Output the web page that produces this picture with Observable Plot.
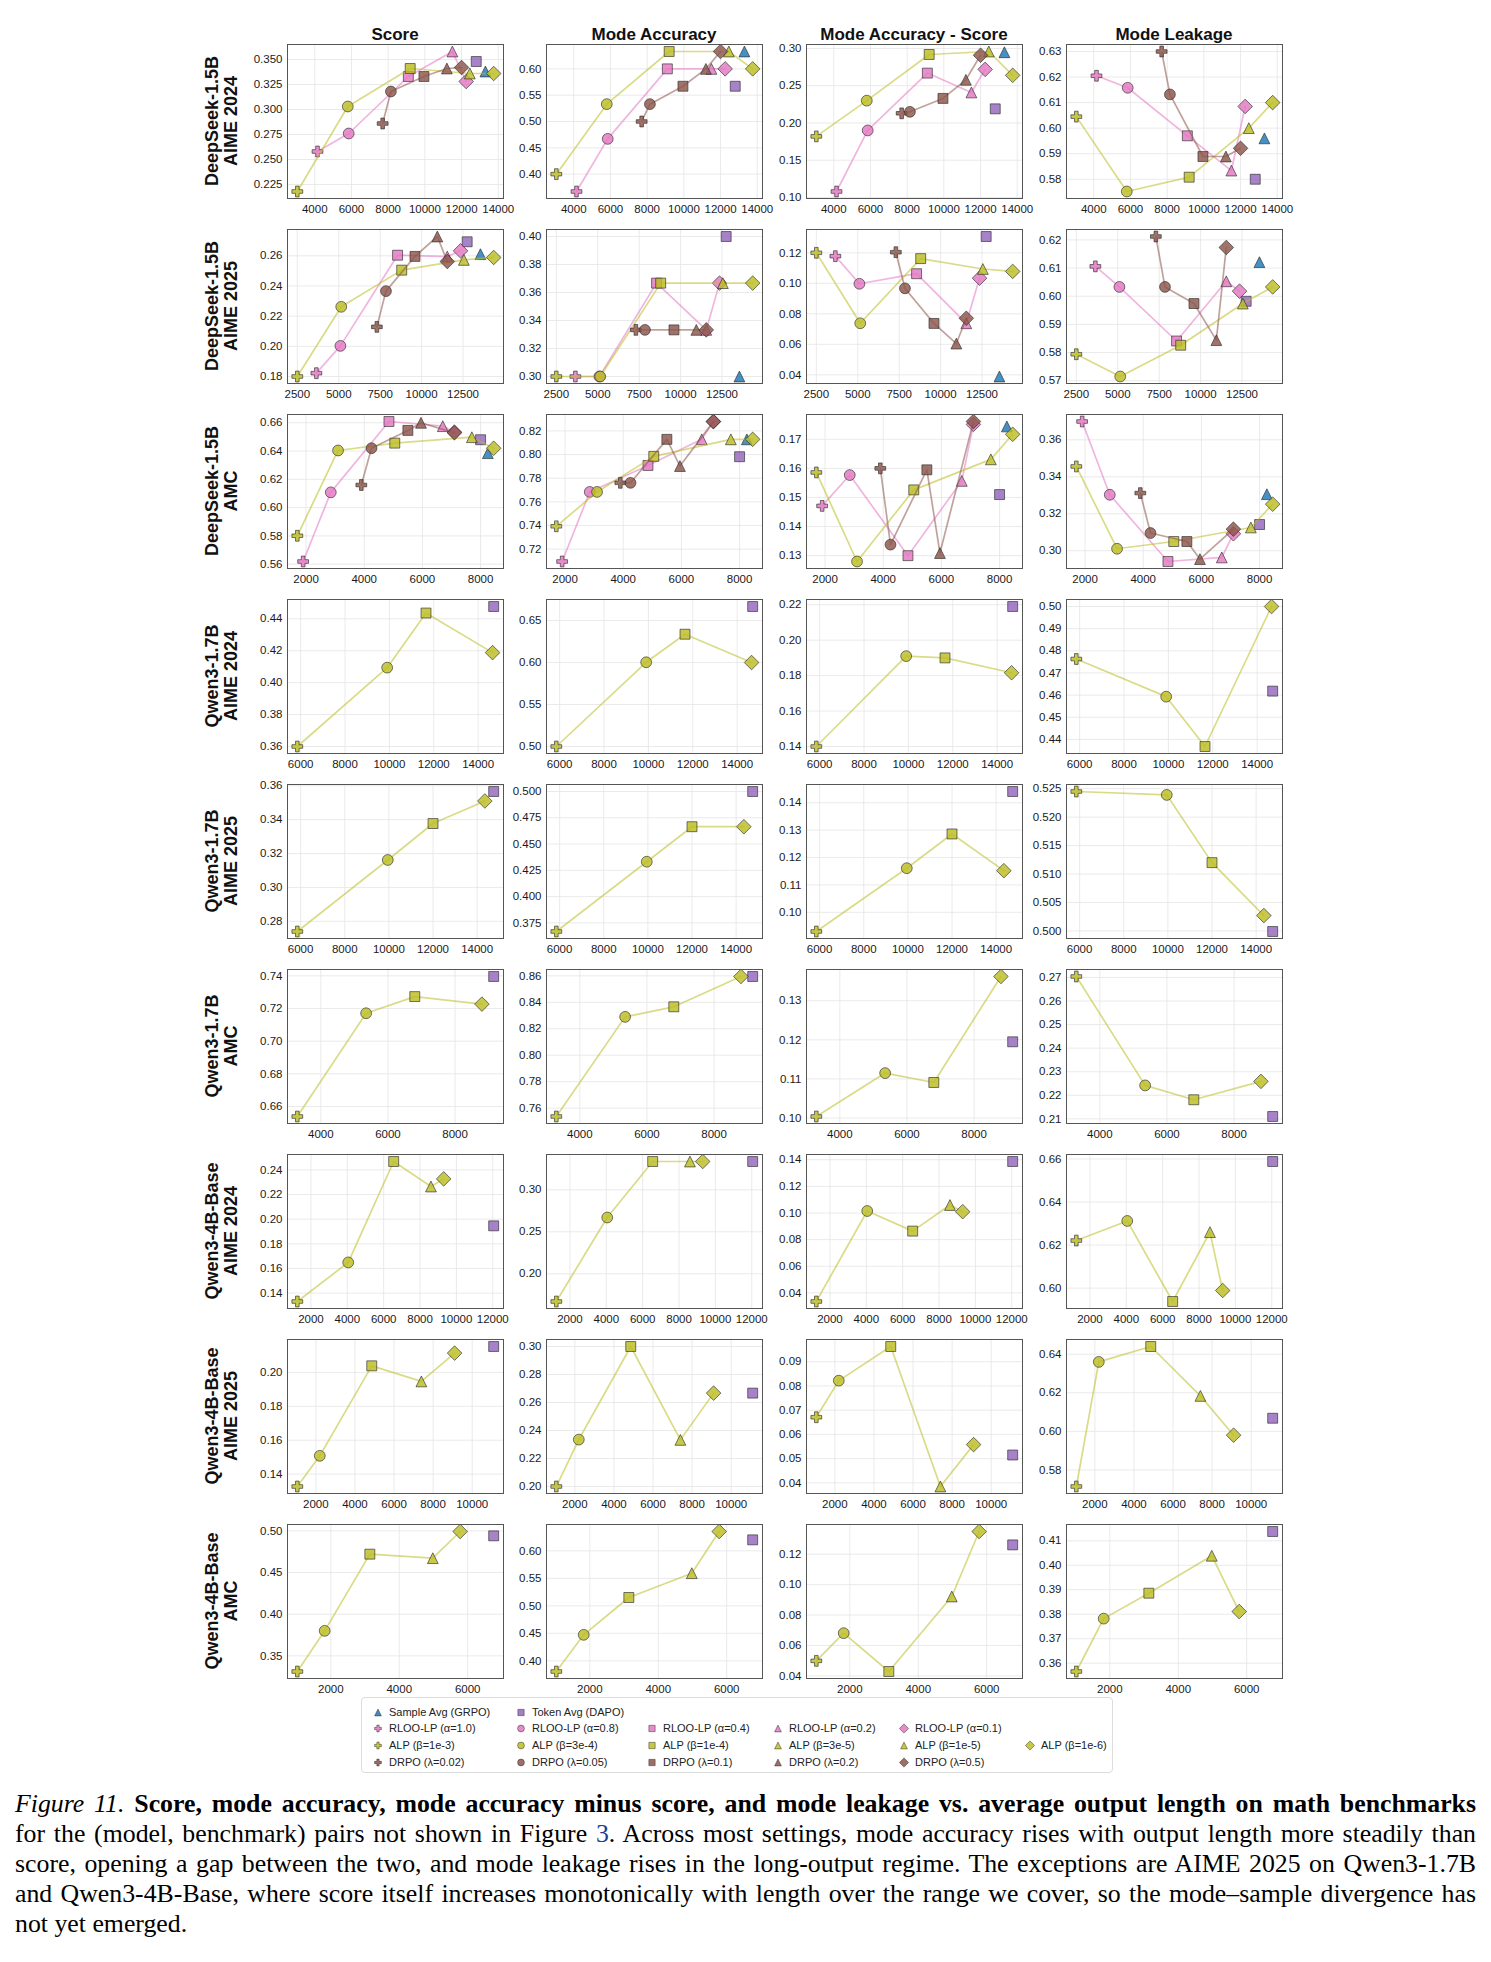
<!DOCTYPE html>
<html><head><meta charset="utf-8">
<script src="https://cdn.jsdelivr.net/npm/d3@7"></script>
<script src="https://cdn.jsdelivr.net/npm/@observablehq/plot@0.6"></script>
<style>
body{margin:0;background:#fff;}
#root{position:relative;width:1491px;height:1962px;font-family:"Liberation Sans",Arial,sans-serif;color:#111;overflow:hidden;}
.panel{position:absolute;}
.coltitle{position:absolute;font-weight:bold;font-size:17px;text-align:center;width:216px;line-height:18px;}
.rowlab{position:absolute;width:240px;height:38px;text-align:center;font-weight:bold;font-size:18px;line-height:19px;transform:rotate(-90deg);transform-origin:50% 50%;}
.legend{position:absolute;left:361px;top:1697px;width:752px;height:76px;border:1px solid #dcdcdc;border-radius:4px;box-sizing:border-box;}
.li{position:absolute;font-size:11px;line-height:13px;white-space:nowrap;color:#222;}
.li svg{position:absolute;left:-17px;top:0px;}
.cap{position:absolute;left:15px;top:1789px;width:1461px;font-family:"Liberation Serif","Times New Roman",serif;font-size:25.8px;line-height:30px;color:#000;}
.cap div{text-align:justify;text-align-last:justify;}
.cap div.last{text-align-last:left;}
</style></head><body><div id="root"></div>
<script>
// ---------- DATA ----------
const metricTitles = ["Score", "Mode Accuracy", "Mode Accuracy - Score", "Mode Leakage"];
const rowModels = ["DeepSeek-1.5B","DeepSeek-1.5B","DeepSeek-1.5B","Qwen3-1.7B","Qwen3-1.7B","Qwen3-1.7B","Qwen3-4B-Base","Qwen3-4B-Base","Qwen3-4B-Base"];
const rowBenchmarks = ["AIME 2024","AIME 2025","AMC","AIME 2024","AIME 2025","AMC","AIME 2024","AIME 2025","AMC"];

// [method, hyperparameter, avg output length, score, mode accuracy, mode accuracy - score, mode leakage]
const dsAime24 = [
  ["GRPO","",13300,0.338,0.633,0.295,0.596],
  ["DAPO","",12800,0.348,0.567,0.219,0.580],
  ["RLOO","α=1.0",4150,0.258,0.367,0.108,0.6205],
  ["RLOO","α=0.8",5850,0.276,0.467,0.190,0.6158],
  ["RLOO","α=0.4",9100,0.333,0.600,0.267,0.597],
  ["RLOO","α=0.2",11500,0.358,0.600,0.241,0.5834],
  ["RLOO","α=0.1",12250,0.328,0.600,0.272,0.6085],
  ["ALP","β=1e-3",3050,0.218,0.400,0.182,0.6045],
  ["ALP","β=3e-4",5800,0.303,0.533,0.230,0.5752],
  ["ALP","β=1e-4",9200,0.341,0.633,0.292,0.5808],
  ["ALP","β=3e-5",12450,0.336,0.633,0.296,0.600],
  ["ALP","β=1e-6",13750,0.336,0.600,0.264,0.610],
  ["DRPO","λ=0.02",7700,0.286,0.500,0.213,0.630],
  ["DRPO","λ=0.05",8150,0.318,0.533,0.215,0.6132],
  ["DRPO","λ=0.1",9950,0.333,0.567,0.233,0.5889],
  ["DRPO","λ=0.2",11200,0.341,0.600,0.258,0.5889],
  ["DRPO","λ=0.5",12000,0.342,0.633,0.291,0.5921]
];
const dsAime25 = [
  ["GRPO","",13550,0.2611,0.300,0.0389,0.6121],
  ["DAPO","",12750,0.2693,0.400,0.1307,0.5982],
  ["RLOO","α=1.0",3650,0.1822,0.300,0.1178,0.6106],
  ["RLOO","α=0.8",5100,0.2003,0.300,0.0997,0.6033],
  ["RLOO","α=0.4",8550,0.2604,0.3667,0.1063,0.5841],
  ["RLOO","α=0.2",11550,0.2595,0.3333,0.0738,0.6053],
  ["RLOO","α=0.1",12350,0.2633,0.3667,0.1034,0.6018],
  ["ALP","β=1e-3",2500,0.180,0.300,0.120,0.5794],
  ["ALP","β=3e-4",5150,0.2262,0.300,0.0738,0.5715],
  ["ALP","β=1e-4",8800,0.2505,0.3667,0.1162,0.5826],
  ["ALP","β=3e-5",12550,0.2573,0.3667,0.1094,0.5974],
  ["ALP","β=1e-6",14350,0.2589,0.3667,0.1078,0.6033],
  ["DRPO","λ=0.02",7300,0.2129,0.3333,0.1204,0.6212],
  ["DRPO","λ=0.05",7850,0.2366,0.3333,0.0967,0.6033],
  ["DRPO","λ=0.1",9600,0.2596,0.3333,0.0737,0.5974],
  ["DRPO","λ=0.2",10950,0.2728,0.3333,0.0605,0.5844],
  ["DRPO","λ=0.5",11550,0.2562,0.3333,0.0771,0.6173]
];
const dsAmc = [
  ["GRPO","",8250,0.6385,0.8129,0.1744,0.3306],
  ["DAPO","",8000,0.648,0.7982,0.151,0.3142],
  ["RLOO","α=1.0",1900,0.5619,0.7095,0.1471,0.3699],
  ["RLOO","α=0.8",2850,0.6108,0.7684,0.1577,0.3303],
  ["RLOO","α=0.4",4850,0.6609,0.7908,0.130,0.2942],
  ["RLOO","α=0.2",6700,0.6576,0.8129,0.1557,0.2964],
  ["RLOO","α=0.1",7100,0.6534,0.828,0.1751,0.3092],
  ["ALP","β=1e-3",1700,0.5801,0.7393,0.1586,0.3456],
  ["ALP","β=3e-4",3100,0.6404,0.7684,0.128,0.3011],
  ["ALP","β=1e-4",5050,0.6456,0.7985,0.1526,0.305],
  ["ALP","β=3e-5",7700,0.6498,0.8129,0.1631,0.3126],
  ["ALP","β=1e-6",8450,0.642,0.8129,0.1717,0.3252],
  ["DRPO","λ=0.02",3900,0.616,0.7761,0.160,0.3312],
  ["DRPO","λ=0.05",4250,0.642,0.7761,0.1338,0.3096],
  ["DRPO","λ=0.1",5500,0.6546,0.8129,0.1595,0.305],
  ["DRPO","λ=0.2",5950,0.660,0.7903,0.1309,0.2955],
  ["DRPO","λ=0.5",7100,0.6529,0.8279,0.1761,0.3117]
];
const q17Aime24 = [
  ["DAPO","",14700,0.4477,0.6667,0.219,0.4618],
  ["ALP","β=1e-3",5850,0.360,0.500,0.140,0.4763],
  ["ALP","β=3e-4",9900,0.4094,0.6003,0.191,0.4593],
  ["ALP","β=1e-4",11650,0.4436,0.6337,0.190,0.4368],
  ["ALP","β=1e-6",14650,0.4188,0.600,0.1816,0.500]
];
const q17Aime25 = [
  ["DAPO","",14750,0.3566,0.500,0.1441,0.4999],
  ["ALP","β=1e-3",5850,0.274,0.3668,0.093,0.5245],
  ["ALP","β=3e-4",9950,0.3162,0.4332,0.1161,0.5239],
  ["ALP","β=1e-4",12000,0.3377,0.4665,0.1286,0.512],
  ["ALP","β=1e-6",14350,0.351,0.4665,0.1152,0.5027]
];
const q17Amc = [
  ["DAPO","",9150,0.7396,0.8595,0.1195,0.211],
  ["ALP","β=1e-3",3300,0.6539,0.7537,0.1004,0.2704],
  ["ALP","β=3e-4",5350,0.7171,0.829,0.1115,0.2242],
  ["ALP","β=1e-4",6800,0.7273,0.8366,0.1091,0.2181],
  ["ALP","β=1e-6",8800,0.7227,0.8595,0.1362,0.2259]
];
const q4Aime24 = [
  ["DAPO","",12050,0.1946,0.3337,0.1387,0.6588],
  ["ALP","β=1e-3",1250,0.1332,0.167,0.0335,0.6221],
  ["ALP","β=3e-4",4050,0.1649,0.267,0.1015,0.6312],
  ["ALP","β=1e-4",6550,0.2468,0.3337,0.0864,0.5938],
  ["ALP","β=3e-5",8600,0.2265,0.3337,0.106,0.626],
  ["ALP","β=1e-6",9300,0.2327,0.3337,0.101,0.5989]
];
const q4Aime25 = [
  ["DAPO","",11100,0.2153,0.2667,0.0515,0.6068],
  ["ALP","β=1e-3",1050,0.1327,0.200,0.0671,0.5714],
  ["ALP","β=3e-4",2200,0.1508,0.2335,0.0822,0.636],
  ["ALP","β=1e-4",4860,0.2039,0.300,0.0963,0.644],
  ["ALP","β=3e-5",7400,0.1947,0.2333,0.0385,0.6184],
  ["ALP","β=1e-6",9100,0.2114,0.2667,0.0558,0.598]
];
const q4Amc = [
  ["DAPO","",6760,0.494,0.62,0.1261,0.4138],
  ["ALP","β=1e-3",1020,0.3312,0.3806,0.0499,0.3566],
  ["ALP","β=3e-4",1820,0.380,0.4473,0.0681,0.3782],
  ["ALP","β=1e-4",3140,0.472,0.5152,0.0429,0.3886],
  ["ALP","β=3e-5",4980,0.4672,0.5594,0.0922,0.4039],
  ["ALP","β=1e-6",5780,0.4992,0.6352,0.1349,0.3811]
];
const runs = [dsAime24, dsAime25, dsAmc, q17Aime24, q17Aime25, q17Amc, q4Aime24, q4Aime25, q4Amc];

const xTicks = [
  [4000,6000,8000,10000,12000,14000],
  [2500,5000,7500,10000,12500],
  [2000,4000,6000,8000],
  [6000,8000,10000,12000,14000],
  [6000,8000,10000,12000,14000],
  [4000,6000,8000],
  [2000,4000,6000,8000,10000,12000],
  [2000,4000,6000,8000,10000],
  [2000,4000,6000]
];
const yTicks = [
  [["0.225","0.250","0.275","0.300","0.325","0.350"],["0.40","0.45","0.50","0.55","0.60"],["0.10","0.15","0.20","0.25","0.30"],["0.58","0.59","0.60","0.61","0.62","0.63"]],
  [["0.18","0.20","0.22","0.24","0.26"],["0.30","0.32","0.34","0.36","0.38","0.40"],["0.04","0.06","0.08","0.10","0.12"],["0.57","0.58","0.59","0.60","0.61","0.62"]],
  [["0.56","0.58","0.60","0.62","0.64","0.66"],["0.72","0.74","0.76","0.78","0.80","0.82"],["0.13","0.14","0.15","0.16","0.17"],["0.30","0.32","0.34","0.36"]],
  [["0.36","0.38","0.40","0.42","0.44"],["0.50","0.55","0.60","0.65"],["0.14","0.16","0.18","0.20","0.22"],["0.44","0.45","0.46","0.47","0.48","0.49","0.50"]],
  [["0.28","0.30","0.32","0.34","0.36"],["0.375","0.400","0.425","0.450","0.475","0.500"],["0.10","0.11","0.12","0.13","0.14"],["0.500","0.505","0.510","0.515","0.520","0.525"]],
  [["0.66","0.68","0.70","0.72","0.74"],["0.76","0.78","0.80","0.82","0.84","0.86"],["0.10","0.11","0.12","0.13"],["0.21","0.22","0.23","0.24","0.25","0.26","0.27"]],
  [["0.14","0.16","0.18","0.20","0.22","0.24"],["0.20","0.25","0.30"],["0.04","0.06","0.08","0.10","0.12","0.14"],["0.60","0.62","0.64","0.66"]],
  [["0.14","0.16","0.18","0.20"],["0.20","0.22","0.24","0.26","0.28","0.30"],["0.04","0.05","0.06","0.07","0.08","0.09"],["0.58","0.60","0.62","0.64"]],
  [["0.35","0.40","0.45","0.50"],["0.40","0.45","0.50","0.55","0.60"],["0.04","0.06","0.08","0.10","0.12"],["0.36","0.37","0.38","0.39","0.40","0.41"]]
];

const legendRows = [
  [["GRPO","","Sample Avg (GRPO)"],["DAPO","","Token Avg (DAPO)"]],
  [["RLOO","α=1.0","RLOO-LP (α=1.0)"],["RLOO","α=0.8","RLOO-LP (α=0.8)"],["RLOO","α=0.4","RLOO-LP (α=0.4)"],["RLOO","α=0.2","RLOO-LP (α=0.2)"],["RLOO","α=0.1","RLOO-LP (α=0.1)"]],
  [["ALP","β=1e-3","ALP (β=1e-3)"],["ALP","β=3e-4","ALP (β=3e-4)"],["ALP","β=1e-4","ALP (β=1e-4)"],["ALP","β=3e-5","ALP (β=3e-5)"],["ALP","β=1e-5","ALP (β=1e-5)"],["ALP","β=1e-6","ALP (β=1e-6)"]],
  [["DRPO","λ=0.02","DRPO (λ=0.02)"],["DRPO","λ=0.05","DRPO (λ=0.05)"],["DRPO","λ=0.1","DRPO (λ=0.1)"],["DRPO","λ=0.2","DRPO (λ=0.2)"],["DRPO","λ=0.5","DRPO (λ=0.5)"]]
];

// ---------- STYLE ----------
const famColor = {GRPO:"#1f77b4", DAPO:"#9467bd", RLOO:"#e377c2", ALP:"#bcbd22", DRPO:"#8c564b"};
const paramShape = {
  "α=1.0":"plus","α=0.8":"circle","α=0.4":"square","α=0.2":"triangle","α=0.1":"diamond",
  "β=1e-3":"plus","β=3e-4":"circle","β=1e-4":"square","β=3e-5":"triangle","β=1e-5":"triangle","β=1e-6":"diamond",
  "λ=0.02":"plus","λ=0.05":"circle","λ=0.1":"square","λ=0.2":"triangle","λ=0.5":"diamond"
};
const shapeOf = d => d[0] === "GRPO" ? "triangle" : d[0] === "DAPO" ? "square" : paramShape[d[1]];
const sym = {
  plus: {draw(c, size){const s=Math.sqrt(size/Math.PI), a=s/3;
    c.moveTo(-a,-s);c.lineTo(a,-s);c.lineTo(a,-a);c.lineTo(s,-a);c.lineTo(s,a);c.lineTo(a,a);
    c.lineTo(a,s);c.lineTo(-a,s);c.lineTo(-a,a);c.lineTo(-s,a);c.lineTo(-s,-a);c.lineTo(-a,-a);c.closePath();}},
  circle: {draw(c, size){const s=Math.sqrt(size/Math.PI); c.moveTo(s,0); c.arc(0,0,s,0,2*Math.PI); c.closePath();}},
  square: {draw(c, size){const s=Math.sqrt(size/Math.PI)*0.92; c.rect(-s,-s,2*s,2*s);}},
  triangle: {draw(c, size){const s=Math.sqrt(size/Math.PI); c.moveTo(0,-s); c.lineTo(s,s); c.lineTo(-s,s); c.closePath();}},
  diamond: {draw(c, size){const s=Math.sqrt(size/Math.PI)*1.35; c.moveTo(0,-s); c.lineTo(s,0); c.lineTo(0,s); c.lineTo(-s,0); c.closePath();}}
};

// ---------- LAYOUT ----------
const root = document.getElementById("root");
const W = 216, H = 154, mL = 56, mR = 14, mT = 10, mB = 28;
const colX = [287, 546, 806, 1066];
const rowY = r => 44 + r * 185;
const pad = a => { const [lo, hi] = d3.extent(a); const p = (hi - lo) * 0.05; return [lo - p, hi + p]; };

metricTitles.forEach((t, c) => {
  const d = document.createElement("div");
  d.className = "coltitle"; d.textContent = t;
  d.style.left = colX[c] + "px"; d.style.top = "26px";
  root.appendChild(d);
});

runs.forEach((data, r) => {
  const lab = document.createElement("div");
  lab.className = "rowlab";
  lab.innerHTML = rowModels[r] + "<br>" + rowBenchmarks[r];
  const cy = rowY(r) + H / 2;
  lab.style.left = (222 - 120) + "px"; lab.style.top = (cy - 19) + "px";
  root.appendChild(lab);

  const xs = data.map(d => d[2]);
  const xt = xTicks[r];
  for (let c = 0; c < 4; c++) {
    const ys = data.map(d => d[3 + c]);
    const ytl = yTicks[r][c];
    const yt = ytl.map(Number);
    const ylab = new Map(yt.map((v, i) => [v, ytl[i]]));
    const X = d => d[2], Y = d => d[3 + c];
    const marks = [
      Plot.gridX(xt, {stroke: "#e4e4e4", strokeOpacity: 1, strokeWidth: 0.8}),
      Plot.gridY(yt, {stroke: "#e4e4e4", strokeOpacity: 1, strokeWidth: 0.8}),
      Plot.axisX(xt, {tickSize: 0, tickPadding: 6, label: null, fontSize: 11.5, tickFormat: d => String(d)}),
      Plot.axisY(yt, {tickSize: 0, tickPadding: 5, label: null, fontSize: 11.5, tickFormat: d => ylab.get(d)})
    ];
    const dotOpts = (d) => ({x: X, y: Y, r: 5.4, symbol: sym[shapeOf(d)], fill: famColor[d[0]], fillOpacity: 0.82,
      stroke: "#2a2a2a", strokeWidth: 0.8, strokeOpacity: 0.8});
    data.filter(d => d[0] === "GRPO" || d[0] === "DAPO").forEach(d => marks.push(Plot.dot([d], dotOpts(d))));
    ["RLOO", "ALP", "DRPO"].forEach(f => {
      const fr = data.filter(d => d[0] === f);
      if (!fr.length) return;
      marks.push(Plot.line(fr, {x: X, y: Y, stroke: famColor[f], strokeOpacity: 0.55, strokeWidth: 1.7}));
      fr.forEach(d => marks.push(Plot.dot([d], dotOpts(d))));
    });
    marks.push(Plot.frame({stroke: "#555", strokeWidth: 1}));
    const svg = Plot.plot({
      width: W + mL + mR, height: H + mT + mB,
      marginLeft: mL, marginRight: mR, marginTop: mT, marginBottom: mB,
      x: {domain: pad(xs)}, y: {domain: pad(ys)},
      style: {background: "transparent", overflow: "visible", fontFamily: "Liberation Sans, Arial, sans-serif", fontSize: "11.5px", color: "#1a1a1a"},
      marks
    });
    const div = document.createElement("div");
    div.className = "panel";
    div.style.left = (colX[c] - mL) + "px"; div.style.top = (rowY(r) - mT) + "px";
    div.style.width = (W + mL + mR) + "px";
    div.appendChild(svg);
    root.appendChild(div);
  }
});

// ---------- LEGEND ----------
const leg = document.createElement("div");
leg.className = "legend";
root.appendChild(leg);
const legColX = [27, 170, 301, 427, 553, 679];
const legRowY = [8, 24, 41, 58];
legendRows.forEach((row, ri) => row.forEach((it, ci) => {
  const d = document.createElement("div");
  d.className = "li";
  d.style.left = legColX[ci] + "px"; d.style.top = legRowY[ri] + "px";
  const shape = it[0] === "GRPO" ? "triangle" : it[0] === "DAPO" ? "square" : paramShape[it[1]];
  const p = d3.path(); sym[shape].draw(p, Math.PI * 3.4 * 3.4);
  d.innerHTML = `<svg width="12" height="13" viewBox="-6 -6.5 12 13"><path d="${p.toString()}" fill="${famColor[it[0]]}" fill-opacity="0.85" stroke="#2a2a2a" stroke-width="0.6" stroke-opacity="0.8"/></svg>` + it[2];
  leg.appendChild(d);
}));

// ---------- CAPTION ----------
const cap = document.createElement("div");
cap.className = "cap";
cap.innerHTML =
  `<div><i>Figure 11.</i> <b>Score, mode accuracy, mode accuracy minus score, and mode leakage vs. average output length on math benchmarks</b></div>` +
  `<div>for the (model, benchmark) pairs not shown in Figure <span style="color:#1c3f94">3</span>. Across most settings, mode accuracy rises with output length more steadily than</div>` +
  `<div>score, opening a gap between the two, and mode leakage rises in the long-output regime. The exceptions are AIME 2025 on Qwen3-1.7B</div>` +
  `<div>and Qwen3-4B-Base, where score itself increases monotonically with length over the range we cover, so the mode–sample divergence has</div>` +
  `<div class="last">not yet emerged.</div>`;
root.appendChild(cap);
</script></body></html>
